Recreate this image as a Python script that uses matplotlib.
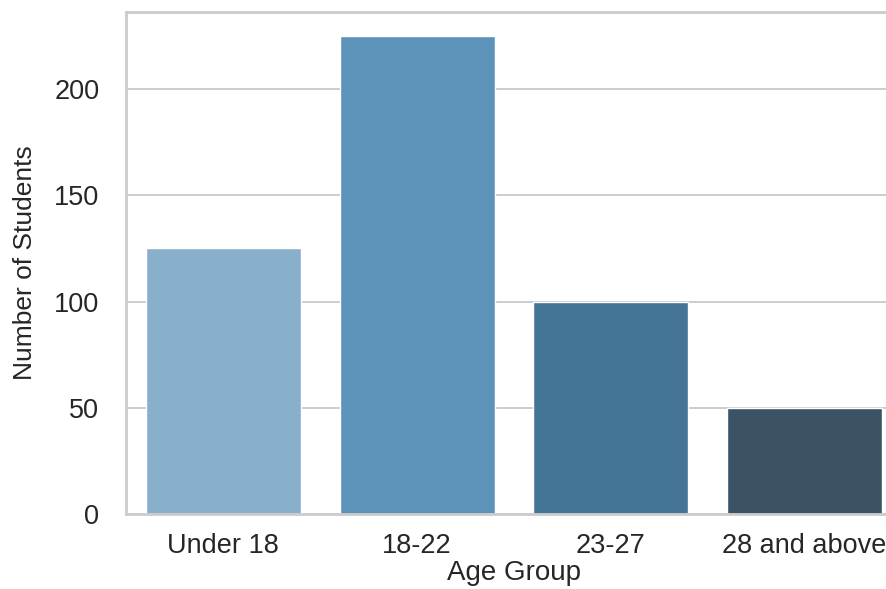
import matplotlib
matplotlib.use("Agg")
import matplotlib.pyplot as plt
import seaborn as sns

categories = ["Under 18", "18-22", "23-27", "28 and above"]
counts = [125, 225, 100, 50]

sns.set_theme(style="whitegrid")
plt.rcParams['font.family'] = ['Liberation Sans', 'DejaVu Sans']

fig = plt.figure(figsize=(8.87, 5.89), dpi=100)
ax = fig.add_axes([126.5/887, 75/589, 775/887, 502/589])
palette = sns.color_palette("Blues_d", len(categories))
sns.barplot(x=categories, y=counts, hue=categories, palette=palette, legend=False, ax=ax)
ax.set_xlabel("Age Group", fontsize=20)
ax.set_ylabel("Number of Students", fontsize=19)
ax.tick_params(axis='x', labelsize=19.5, pad=8)
ax.tick_params(axis='y', labelsize=19.5, pad=13.5)
ax.set_ylim(0, 236.25)
ax.xaxis.set_label_coords(0.5, -0.092)
ax.yaxis.set_label_coords(-0.115, 0.5)
ax.grid(axis='y', linewidth=1.4)
for s in ax.spines.values():
    s.set_linewidth(2)
fig.savefig("out.png", dpi=100)
